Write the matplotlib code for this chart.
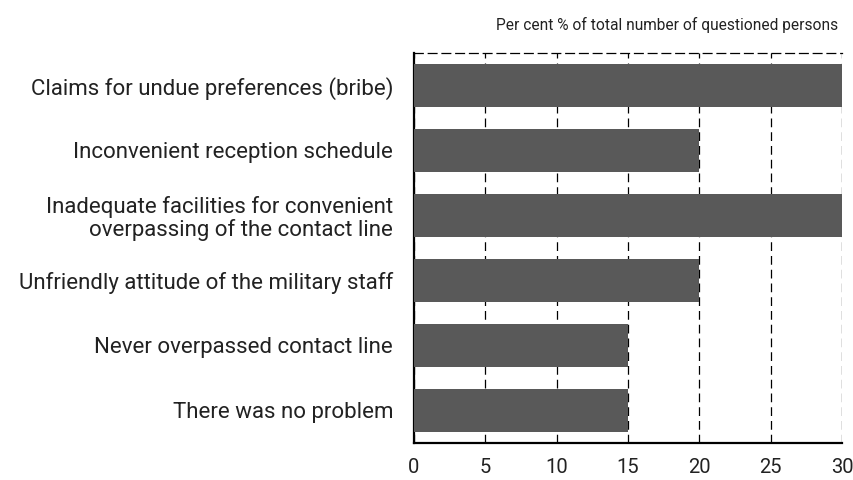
import matplotlib.pyplot as plt

categories = [
    "Claims for undue preferences (bribe)",
    "Inconvenient reception schedule",
    "Inadequate facilities for convenient\noverpassing of the contact line",
    "Unfriendly attitude of the military staff",
    "Never overpassed contact line",
    "There was no problem",
]
values = [30, 20, 30, 20, 15, 15]
xticks = [0, 5, 10, 15, 20, 25, 30]

plt.rcParams["font.family"] = ["Roboto", "DejaVu Sans"]
fig = plt.figure(figsize=(8.54, 4.8), dpi=100)
ax = fig.add_axes([0.4848, 0.0771, 0.5012, 0.8125])

pos = list(range(len(categories)))
ax.barh(pos, values, height=0.65, color="#595959", zorder=3)
ax.set_ylim(len(categories) - 0.5, -0.5)
ax.set_xlim(0, 30)
ax.set_yticks(pos)
ax.set_yticklabels(categories, fontsize=16, color="#222222", linespacing=1.05)
ax.set_xticks(xticks)
ax.set_xticklabels([str(t) for t in xticks], fontsize=14.5, color="#222222")
ax.tick_params(axis="y", length=0, pad=15)
ax.tick_params(axis="x", length=0, pad=11)

ax.grid(axis="x", color="black", linestyle=(0, (7, 4)), linewidth=0.9, zorder=0)
ax.spines["right"].set_visible(False)
ax.spines["top"].set_linestyle((0, (7, 4)))
ax.spines["top"].set_linewidth(0.9)
ax.spines["left"].set_linewidth(1.6)
ax.spines["bottom"].set_linewidth(1.6)

fig.text(0.981, 0.948, "Per cent % of total number of questioned persons",
         ha="right", va="center", fontsize=11.2, color="#222222")

fig.savefig("out.png", dpi=100)
